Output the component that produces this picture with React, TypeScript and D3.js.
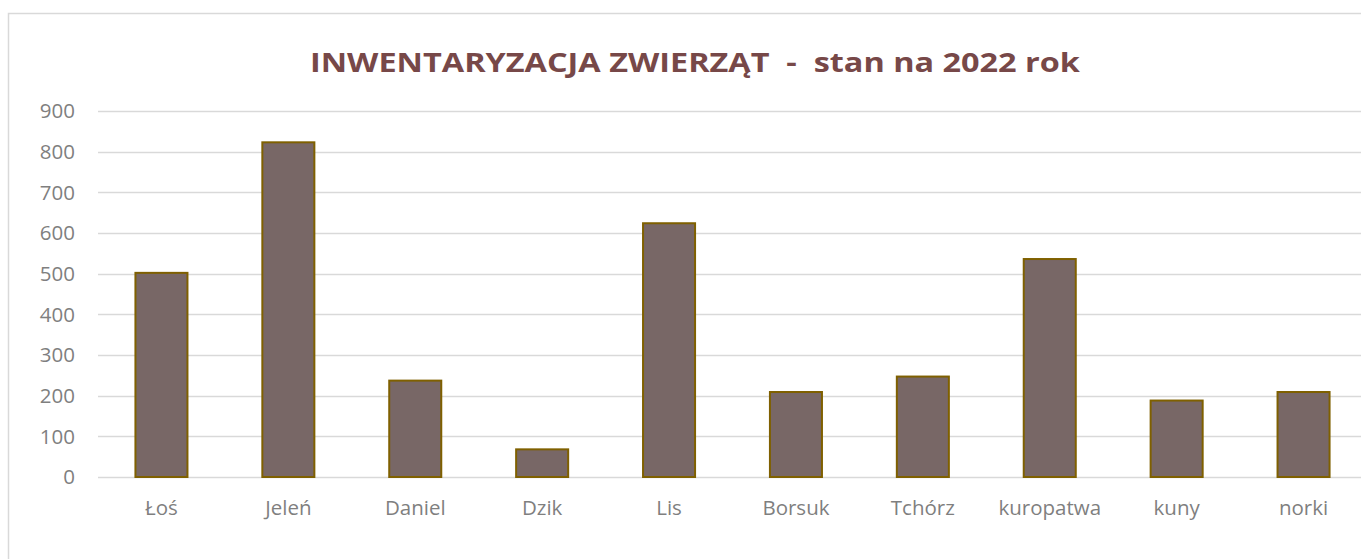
import React from "react";
import * as d3 from "d3";

const width = 1361;
const height = 559;
const margin = { top: 111, right: 0, bottom: 82, left: 98 };

const title = "INWENTARYZACJA ZWIERZĄT  -  stan na 2022 rok";
const animals = ["Łoś", "Jeleń", "Daniel", "Dzik", "Lis", "Borsuk", "Tchórz", "kuropatwa", "kuny", "norki"];
const counts = [502, 823, 237, 68, 624, 209, 247, 536, 188, 209];
const yTicks = [0, 100, 200, 300, 400, 500, 600, 700, 800, 900];

const font = "'Open Sans', sans-serif";

export default function App() {
  // plot runs a little past the visible right edge (chart is cropped)
  const x = d3
    .scaleBand()
    .domain(animals)
    .range([margin.left, 1367])
    .paddingInner(0.59)
    .paddingOuter(0.295);

  const y = d3
    .scaleLinear()
    .domain([0, 900])
    .range([height - margin.bottom, margin.top]);

  return (
    <svg
      width={width}
      height={height}
      style={{ position: "absolute", left: 0, top: 0, background: "#fff" }}
    >
      <rect x={8.5} y={13.5} width={1360} height={560} fill="#fff" stroke="#d9d9d9" strokeWidth={1.5} />
      <text
        x={(310 + 1080) / 2}
        y={72}
        textAnchor="middle"
        fontFamily={font}
        fontWeight="bold"
        fontSize={27}
        fill="#774848"
        textLength={770}
        lengthAdjust="spacingAndGlyphs"
        style={{ whiteSpace: "pre" }}
      >
        {title}
      </text>
      {yTicks.map((t) => (
        <g key={t}>
          <line
            x1={margin.left}
            x2={width - margin.right}
            y1={Math.round(y(t)) + 0.5}
            y2={Math.round(y(t)) + 0.5}
            stroke="#d9d9d9"
            strokeWidth={1.5}
          />
          <text
            x={75}
            y={y(t)}
            dy="0.36em"
            textAnchor="end"
            fontFamily={font}
            fontSize={20.5}
            fill="#7f7f7f"
          >
            {t}
          </text>
        </g>
      ))}
      {animals.map((a, i) => (
        <rect
          key={a}
          x={x(a)}
          y={y(counts[i])}
          width={x.bandwidth()}
          height={y(0) - y(counts[i])}
          fill="#786766"
          stroke="#7f6000"
          strokeWidth={2}
        />
      ))}
      {animals.map((a) => (
        <text
          key={a}
          x={(x(a) ?? 0) + x.bandwidth() / 2}
          y={515}
          textAnchor="middle"
          fontFamily={font}
          fontSize={20.5}
          fill="#7f7f7f"
        >
          {a}
        </text>
      ))}
    </svg>
  );
}
